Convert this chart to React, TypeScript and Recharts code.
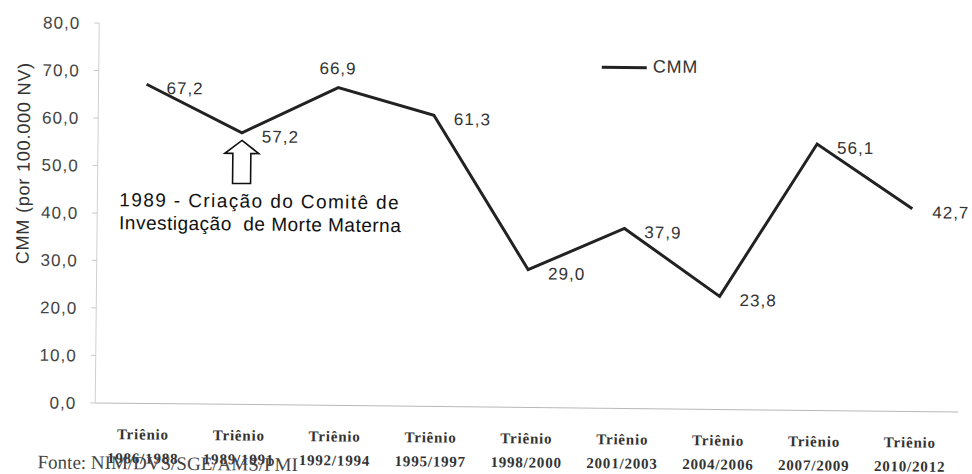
import { LineChart, Line, XAxis, YAxis, LabelList } from "recharts";

// Triênios (x axis) and CMM values, per 100.000 NV
const periodos = [
  "1986/1988",
  "1989/1991",
  "1992/1994",
  "1995/1997",
  "1998/2000",
  "2001/2003",
  "2004/2006",
  "2007/2009",
  "2010/2012",
];
const cmm = [67.2, 57.2, 66.9, 61.3, 29.0, 37.9, 23.8, 56.1, 42.7];
const yTicks = [0, 10, 20, 30, 40, 50, 60, 70, 80];

const data = periodos.map((p, i) => ({ periodo: p, cmm: cmm[i] }));

const fmt = (v: number) => v.toFixed(1).replace(".", ",");

const sans = "'Liberation Sans', Arial, sans-serif";
const serif = "'Liberation Serif', 'Times New Roman', serif";

function PeriodTick({ x, y, payload }: any) {
  return (
    <g transform={`translate(${x},${y})`}>
      <text
        textAnchor="middle"
        fontFamily={serif}
        fontWeight="bold"
        fontSize={15}
        letterSpacing={0.8}
        fill="#333"
      >
        <tspan x={0} dy={28}>Triênio</tspan>
        <tspan x={0} dy={24}>{payload.value}</tspan>
      </text>
    </g>
  );
}

function ValueLabel({ x, y, value, index }: any) {
  // the 1992/1994 label sits above the line in the original
  const above = index === 2;
  return (
    <text
      x={above ? x - 19 : x + 20}
      y={above ? y - 18 : y + 5}
      dominantBaseline="middle"
      fontFamily={sans}
      fontSize={17}
      letterSpacing={1}
      fill="#333"
    >
      {fmt(value)}
    </text>
  );
}

export default function App() {
  return (
    <div
      style={{
        position: "absolute",
        left: 0,
        top: 0,
        width: 972,
        height: 474,
        background: "#fff",
        transform: "rotate(0.6deg)",
      }}
    >
      <LineChart
        width={972}
        height={474}
        data={data}
        margin={{ top: 27, right: 12, bottom: 0, left: 0 }}
      >
        <XAxis
          dataKey="periodo"
          padding={{ left: 48, right: 48 }}
          tick={<PeriodTick />}
          tickLine={false}
          axisLine={{ stroke: "#b8b8b8" }}
          interval={0}
          height={67}
        />
        <YAxis
          domain={[0, 80]}
          ticks={yTicks}
          width={97}
          tickFormatter={fmt}
          tickSize={5}
          tickMargin={14}
          tickLine={{ stroke: "#c8c8c8" }}
          axisLine={{ stroke: "#d0d0d0" }}
          tick={{ fontFamily: sans, fontSize: 17, fill: "#444", letterSpacing: 1 }}
        />
        <Line
          dataKey="cmm"
          name="CMM"
          stroke="#222"
          strokeWidth={3}
          dot={false}
          isAnimationActive={false}
        >
          <LabelList dataKey="cmm" content={<ValueLabel />} />
        </Line>
      </LineChart>

      <svg
        width={972}
        height={474}
        style={{ position: "absolute", left: 0, top: 0, pointerEvents: "none" }}
      >
        {/* legend */}
        <line x1={600} y1={66} x2={645} y2={66} stroke="#222" strokeWidth={3} />
        <text x={651} y={66} dominantBaseline="middle" fontFamily={sans} fontSize={18} letterSpacing={0.8} fill="#333">
          CMM
        </text>

        <text
          transform="translate(24,168) rotate(-90)"
          textAnchor="middle"
          dominantBaseline="middle"
          fontFamily={sans}
          fontSize={18}
          letterSpacing={0.8}
          fill="#333"
        >
          CMM (por 100.000 NV)
        </text>

        {/* arrow pointing at 1989 */}
        <path
          d="M241,143 L258,156 L250,156 L250,186 L232,186 L232,156 L224,156 Z"
          fill="#fff"
          stroke="#111"
          strokeWidth={1.6}
        />
        <text fontFamily={sans} fontSize={19} fill="#111">
          <tspan x={119} y={210} letterSpacing={1.4}>1989 - Criação do Comitê de</tspan>
          <tspan x={119} y={233} letterSpacing={0.5} xmlSpace="preserve">
            Investigação  de Morte Materna
          </tspan>
        </text>

        <text x={40} y={473} fontFamily={serif} fontSize={19} fill="#444">
          Fonte: NIM/DVS/SGE/AMS/PMI
        </text>
      </svg>
    </div>
  );
}
